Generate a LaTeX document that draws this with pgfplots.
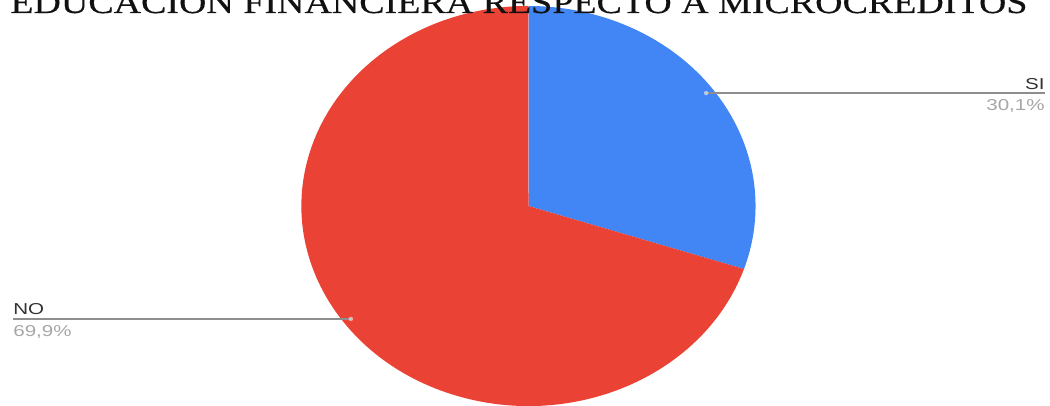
\documentclass[border=0pt]{standalone}
\usepackage{pgfplots}
\pgfplotsset{compat=1.18}
\usepackage{pgfplotstable}
\usepackage{fontspec}
\setmainfont{Liberation Sans}
\newfontfamily\titlefont[FakeStretch=1.2,FakeBold=0.3]{Liberation Serif}
\newfontfamily\lblfont[FakeStretch=1.3]{Liberation Sans}
\definecolor{gblue}{HTML}{4285F4}
\definecolor{gred}{HTML}{EA4335}
\definecolor{pctgray}{HTML}{A6A6A6}
\definecolor{linegray}{HTML}{8E8E8E}
\definecolor{lbldark}{HTML}{333333}
\definecolor{titlecol}{HTML}{111111}
\pgfplotstableread{
label value
SI 30.1
NO 69.9
}\piedata
\begin{document}
\begin{tikzpicture}
\useasboundingbox (0,0) rectangle (21cm,8.1cm);
\clip (0,0) rectangle (21cm,8.1cm);
\pgfplotstablegetelem{0}{value}\of\piedata \edef\vSI{\pgfplotsretval}
\pgfplotstablegetelem{1}{value}\of\piedata \edef\vNO{\pgfplotsretval}
% centre and radii in axis units (1 unit = 0.02cm)
\def\cx{528.5}\def\cy{199}\def\rx{227}\def\ry{200}
\pgfmathsetmacro\aA{90}
\pgfmathsetmacro\aB{90-3.6*\vSI}
\pgfmathsetmacro\aC{\aB-3.6*\vNO}
\pgfmathsetmacro\mSI{(\aA+\aB)/2}
\pgfmathsetmacro\mNO{(\aB+\aC)/2}
\pgfmathsetmacro\rxcm{\rx*0.02}
\pgfmathsetmacro\rycm{\ry*0.02}
\pgfmathsetmacro\bx{\cx+\rx*cos(\aB)}
\pgfmathsetmacro\by{\cy+\ry*sin(\aB)}
\pgfmathsetmacro\sx{\cx+0.965*\rx*cos(\mSI)}
\pgfmathsetmacro\sy{\cy+0.965*\ry*sin(\mSI)}
\pgfmathsetmacro\nx{\cx+0.965*\rx*cos(\mNO)}
\pgfmathsetmacro\ny{\cy+0.965*\ry*sin(\mNO)}
\begin{axis}[
  at={(0,0)}, anchor=south west,
  hide axis, scale only axis,
  width=21cm, height=8.1cm,
  xmin=0, xmax=1050, ymin=0, ymax=405,
  clip=false,
]
% SI wedge
\fill[gblue] (axis cs:\cx,\cy) -- (axis cs:\cx,{\cy+\ry})
  arc[start angle=\aA, end angle=\aB, x radius=\rxcm cm, y radius=\rycm cm] -- cycle;
% NO wedge
\fill[gred] (axis cs:\cx,\cy) -- (axis cs:\bx,\by)
  arc[start angle=\aB, end angle=\aC, x radius=\rxcm cm, y radius=\rycm cm] -- cycle;
% SI label
\draw[linegray, line width=0.7pt] (axis cs:\sx,\sy) -- (axis cs:1045,\sy);
\fill[white, opacity=0.55] (axis cs:\sx,\sy) circle[radius=0.045cm];
\node[anchor=base east, inner sep=0, text=lbldark, font=\lblfont\fontsize{9}{10}\selectfont]
  at (axis cs:1045,{\sy+4}) {SI};
\node[anchor=north east, inner sep=0, text=pctgray, font=\lblfont\fontsize{9}{10}\selectfont]
  at (axis cs:1045,{\sy-6}) {30,1\%};
% NO label
\draw[linegray, line width=0.7pt] (axis cs:13,\ny) -- (axis cs:\nx,\ny);
\fill[white, opacity=0.55] (axis cs:\nx,\ny) circle[radius=0.045cm];
\node[anchor=base west, inner sep=0, text=lbldark, font=\lblfont\fontsize{9}{10}\selectfont]
  at (axis cs:13,{\ny+4}) {NO};
\node[anchor=north west, inner sep=0, text=pctgray, font=\lblfont\fontsize{9}{10}\selectfont]
  at (axis cs:13,{\ny-6}) {69,9\%};
% title (cut off at the top, as in the reference)
\node[anchor=base west, inner sep=0, text=titlecol, font=\titlefont\fontsize{18}{21}\selectfont]
  at (axis cs:10,392) {EDUCACION FINANCIERA RESPECTO A MICROCREDITOS};
\end{axis}
\end{tikzpicture}
\end{document}
